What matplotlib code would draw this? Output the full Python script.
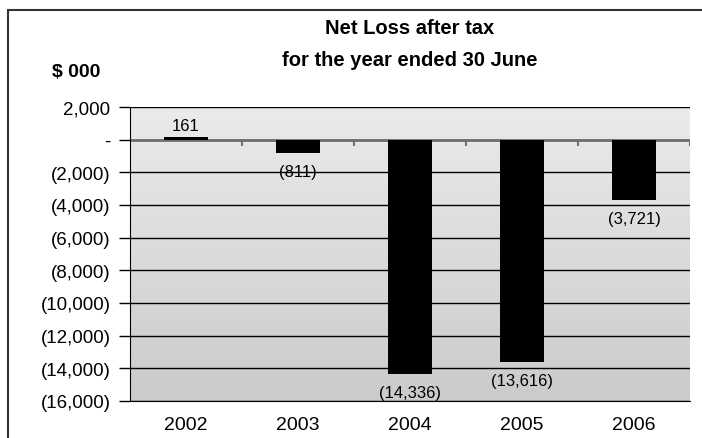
import numpy as np
import matplotlib
matplotlib.use('Agg')
import matplotlib.pyplot as plt
from matplotlib.patches import Rectangle
from matplotlib.ticker import FuncFormatter

plt.rcParams['font.family'] = ['Liberation Sans', 'DejaVu Sans']

# 연도별 세후 순손실 ($ 000)
years = ['2002', '2003', '2004', '2005', '2006']
net_loss = [161, -811, -14336, -13616, -3721]
value_labels = ['161', '(811)', '(14,336)', '(13,616)', '(3,721)']
y_ticks = [2000, 0, -2000, -4000, -6000, -8000, -10000, -12000, -14000, -16000]


def fmt_thousands(v, pos=None):
    if v == 0:
        return '-'
    if v < 0:
        return '({:,.0f})'.format(-v)
    return '{:,.0f}'.format(v)


fig = plt.figure(figsize=(7.02, 4.39), dpi=100)
ax = fig.add_axes([130 / 702, 1 - 402 / 439, 560 / 702, 294 / 439])

ax.set_xlim(0, len(years))
ax.set_ylim(y_ticks[-1], y_ticks[0])

# 배경 그라데이션 (위: 밝은 회색 -> 아래: 진한 회색)
grad = np.linspace(0, 1, 256).reshape(-1, 1)
ax.imshow(grad, cmap=matplotlib.colors.LinearSegmentedColormap.from_list(
    'bg', ['#ebebeb', '#cbcbcb']), aspect='auto',
    extent=[0, len(years), y_ticks[-1], y_ticks[0]], zorder=0)

ax.set_axisbelow(True)
ax.yaxis.grid(True, color='black', linewidth=1.0, zorder=1)

x = np.arange(len(years)) + 0.5
ax.bar(x, net_loss, width=0.4, color='black', zorder=3)

# 0 기준선과 구간 눈금
ax.axhline(0, color='#707070', linewidth=2, zorder=2)
ax.vlines(np.arange(1, len(years) + 1), 0, -380, color='#707070',
          linewidth=1.5, zorder=2)

for xi, v, lab in zip(x, net_loss, value_labels):
    if v >= 0:
        ax.annotate(lab, (xi, v), xytext=(0, 4), textcoords='offset pixels',
                    ha='center', va='bottom', fontsize=12)
    else:
        ax.annotate(lab, (xi, v), xytext=(0, -11), textcoords='offset pixels',
                    ha='center', va='top', fontsize=12)

ax.set_yticks(y_ticks)
ax.yaxis.set_major_formatter(FuncFormatter(fmt_thousands))
ax.set_xticks(x)
ax.set_xticklabels(years)
ax.tick_params(axis='y', length=8, width=1, labelsize=13.5, pad=6)
ax.tick_params(axis='x', length=0, labelsize=14, pad=11)

for s in ['top', 'right']:
    ax.spines[s].set_visible(False)
ax.spines['left'].set_color('black')
ax.spines['bottom'].set_color('black')

fig.text(410 / 702, 1 - 29 / 439, 'Net Loss after tax', ha='center',
         va='center', fontsize=14.5, fontweight='bold')
fig.text(410 / 702, 1 - 60 / 439, 'for the year ended 30 June', ha='center',
         va='center', fontsize=14.5, fontweight='bold')
fig.text(76 / 702, 1 - 73 / 439, '$ 000', ha='center', va='center',
         fontsize=14, fontweight='bold')

# 바깥 테두리
fig.patches.append(Rectangle((8 / 702, -0.1), 1.0, 1 - 11 / 439 + 0.1,
                             transform=fig.transFigure, fill=False,
                             edgecolor='#333333', linewidth=1.5))

fig.savefig('out.png', dpi=100)
